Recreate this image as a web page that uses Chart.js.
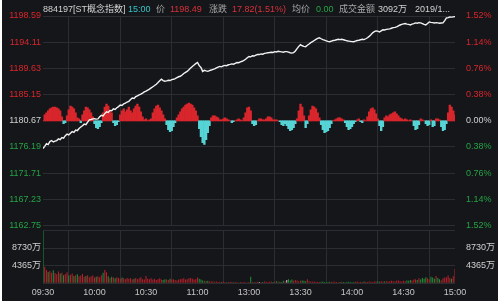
<!DOCTYPE html>
<html>
<head>
<meta charset="utf-8">
<script src="https://cdn.jsdelivr.net/npm/chart.js"></script>
<style>
    html, body { margin: 0; padding: 0; background: #fff; }
    #wrap { position: relative; width: 500px; height: 304px; overflow: hidden; }
    #bg { position: absolute; left: 2px; top: 0; width: 496px; height: 301px; background: #15161a; }
    #priceBox { position: absolute; left: 0; top: 0; width: 500px; height: 234px; }
    #volBox { position: absolute; left: 0; top: 222px; width: 500px; height: 80px; }
    .hd { position: absolute; top: 2px; font: 9px "Liberation Sans", "Noto Sans CJK SC", sans-serif; line-height: 14px; white-space: nowrap; }
</style>
</head>
<body>
<div id="wrap">
    <div id="bg"></div>
    <div id="priceBox"><canvas id="priceChart"></canvas></div>
    <div id="volBox"><canvas id="volChart"></canvas></div>
    <span class="hd" style="left:43px;color:#d2d2d2">884197[ST概念指数]</span>
    <span class="hd" style="left:128px;color:#36c5c8">15:00</span>
    <span class="hd" style="left:156px;color:#a8a8a8">价</span>
    <span class="hd" style="left:170px;color:#d8323a">1198.49</span>
    <span class="hd" style="left:209px;color:#a8a8a8">涨跌</span>
    <span class="hd" style="left:232px;color:#d8323a">17.82(1.51%)</span>
    <span class="hd" style="left:292px;color:#a8a8a8">均价</span>
    <span class="hd" style="left:316px;color:#24a545">0.00</span>
    <span class="hd" style="left:339px;color:#a8a8a8">成交金额</span>
    <span class="hd" style="left:378px;color:#d2d2d2">3092万</span>
    <span class="hd" style="left:415px;color:#d2d2d2">2019/1...</span>
</div>
<script>
    // 昨收 / 坐标轴刻度
    let prevClose = 1180.67;
    let timeLabels = ['09:30', '10:00', '10:30', '11:00', '13:00', '13:30', '14:00', '14:30', '15:00'];
    let priceTicks = [1162.75, 1167.23, 1171.71, 1176.19, 1180.67, 1185.15, 1189.63, 1194.11, 1198.59];
    let pctLabels = ['1.52%', '1.14%', '0.76%', '0.38%', '0.00%', '0.38%', '0.76%', '1.14%', '1.52%'];
    let volTicks = [0, 4365, 8730, 13095];
    let volLabels = ['', '4365万', '8730万', ''];

    // 分时价格 (每分钟, 241个)
    let price = [
        1175.94, 1176.30, 1176.75, 1176.60, 1177.12, 1177.30, 1177.05, 1177.20, 1177.29, 1177.60,
        1177.45, 1177.80, 1177.70, 1178.13, 1178.40, 1178.25, 1178.55, 1178.81, 1178.70, 1179.10,
        1179.00, 1179.35, 1179.60, 1179.82, 1180.10, 1180.00, 1180.45, 1180.84, 1180.90, 1181.00,
        1181.01, 1180.95, 1181.00, 1181.35, 1181.60, 1181.50, 1181.90, 1182.19, 1182.10, 1182.45,
        1182.40, 1182.70, 1182.60, 1182.90, 1183.10, 1183.38, 1183.30, 1183.55, 1183.70, 1183.88,
        1184.00, 1184.30, 1184.56, 1184.50, 1184.80, 1184.95, 1185.10, 1185.23, 1185.40, 1185.60,
        1185.74, 1185.90, 1186.08, 1186.30, 1186.50, 1186.70, 1186.93, 1187.20, 1187.50, 1187.77,
        1187.55, 1187.43, 1187.50, 1187.60, 1187.55, 1187.70, 1187.77, 1187.90, 1188.05, 1188.20,
        1188.28, 1188.50, 1188.75, 1188.95, 1189.12, 1189.40, 1189.70, 1189.97, 1190.20, 1190.45,
        1190.64, 1190.10, 1189.80, 1189.12, 1189.30, 1189.20, 1189.12, 1189.25, 1189.35, 1189.46,
        1189.55, 1189.70, 1189.85, 1189.97, 1189.90, 1190.05, 1190.15, 1190.10, 1190.25, 1190.31,
        1190.40, 1190.35, 1190.50, 1190.64, 1190.60, 1190.75, 1190.85, 1190.98, 1191.20, 1191.45,
        1191.66, 1191.60, 1191.80, 1191.75, 1191.90, 1192.00, 1192.00, 1192.10, 1192.05, 1192.20,
        1192.25, 1192.30, 1192.34, 1192.40, 1192.35, 1192.50, 1192.45, 1192.55, 1192.50, 1192.45,
        1192.40, 1192.50, 1192.50, 1192.40, 1192.30, 1192.25, 1192.34, 1192.60, 1193.01, 1193.40,
        1193.69, 1193.50, 1193.40, 1193.35, 1193.60, 1193.80, 1194.03, 1194.20, 1194.40, 1194.60,
        1194.75, 1194.87, 1194.70, 1194.55, 1194.45, 1194.35, 1194.25, 1194.19, 1194.30, 1194.40,
        1194.45, 1194.53, 1194.60, 1194.55, 1194.60, 1194.53, 1194.45, 1194.35, 1194.30, 1194.25,
        1194.20, 1194.19, 1194.30, 1194.40, 1194.45, 1194.53, 1194.60, 1194.55, 1194.70, 1194.87,
        1195.10, 1195.40, 1195.72, 1195.90, 1196.05, 1196.00, 1195.85, 1196.05, 1196.23, 1196.20,
        1196.30, 1196.35, 1196.39, 1196.50, 1196.60, 1196.65, 1196.73, 1196.90, 1197.05, 1197.15,
        1197.24, 1197.30, 1197.20, 1197.15, 1197.07, 1197.20, 1197.30, 1197.41, 1197.35, 1197.45,
        1197.41, 1197.30, 1197.15, 1197.07, 1197.30, 1197.58, 1197.50, 1197.45, 1197.40, 1197.45,
        1197.41, 1197.35, 1197.40, 1197.41, 1197.80, 1198.25, 1198.30, 1198.42, 1198.40, 1198.45,
        1198.49
    ];

    // 红绿柱 (买卖力道)
    let hist = [
        0, 6, 8, 10, 12, 13, 14, 14, 13, 12,
        10, 4, -3, -2, 5, 11, 15, 14, 12, 8,
        3, 2, -2, 6, 10, 14, 13, 11, 8, 4,
        -3, -7, -8, -6, -2, 8, 14, 17, 15, 10,
        8, -2, -5, -4, -1, 6, 10, 12, 9, 11,
        14, 10, 8, 12, 15, 17, 14, 9, 4, 1,
        2, 0, 1, 2, 8, 12, 15, 16, 13, 10,
        6, 2, -4, -9, -11, -10, -6, -2, 3, 6,
        9, 12, 14, 16, 17, 18, 17, 16, 13, 10,
        5, -8, -16, -22, -24, -19, -12, -5, 3, 5,
        5, 4, 3, 1, 1, 2, 3, 2, 1, 0,
        -2, -1, 0, 1, 2, 1, 0, 3, 8, 13,
        14, 10, -3, -5, -4, 0, 2, 2, 1, 1,
        2, 4, 4, 3, 1, 1, 1, 0, -1, -4,
        -5, -3, -5, -8, -10, -9, -7, -3, 2, 10,
        17, 14, 5, -7, -3, 5, 11, 15, 14, 12,
        8, 3, -4, -9, -12, -11, -10, -7, -3, 0,
        1, 2, 3, 3, 2, 1, -2, -6, -9, -8,
        -6, -3, -1, 1, 2, -1, -2, 1, 0, 4,
        9, 12, 13, 11, 7, 2, -5, -10, -6, 3,
        5, 4, 6, 7, 8, 9, 7, 5, 3, 2,
        1, 2, 1, 0, 1, 0, -5, -9, -8, -4,
        2, 1, 0, -3, -5, -4, 1, -6, -5, 2,
        2, 1, -6, -10, -9, -3, 8, 16, 14, 10,
        6
    ];

    // 成交额 (万)
    let vol = [
        13000, 4000, 3300, 2800, 3000, 2600, 3200, 2500, 2200, 2900,
        2400, 2600, 2000, 2300, 2700, 1900, 2100, 2400, 1800, 2000,
        2200, 1700, 1900, 2300, 1600, 1800, 2000, 1500, 1700, 1900,
        1400, 1600, 1700, 1500, 2000, 2600, 3300, 2700, 1700, 1300,
        1600, 1400, 1200, 1500, 1300, 1100, 1400, 1200, 1000, 1300,
        1100, 1200, 900, 1100, 1300, 1000, 1200, 1500, 1000, 900,
        1800, 1100, 1000, 1200, 900, 1100, 800, 1000, 1200, 900,
        800, 1000, 900, 800, 1100, 900, 1000, 800, 700, 900,
        1000, 1100, 1200, 900, 1000, 1200, 1300, 1100, 900, 1000,
        1400, 1100, 900, 700, 600, 500, 600, 400, 500, 400,
        350, 400, 300, 350, 300, 400, 300, 250, 300, 350,
        300, 250, 300, 250, 200, 300, 250, 300, 250, 200,
        300, 1600, 300, 250, 300, 350, 300, 250, 300, 400,
        350, 300, 350, 400, 300, 350, 500, 400, 350, 300,
        600, 500, 800, 1000, 700, 900, 600, 800, 700, 500,
        600, 700, 600, 500, 1000, 500, 400, 350, 400, 300,
        350, 300, 350, 400, 300, 250, 300, 350, 300, 400,
        350, 300, 250, 300, 350, 300, 250, 300, 350, 300,
        250, 300, 350, 400, 300, 350, 300, 400, 350, 300,
        400, 350, 300, 400, 450, 400, 350, 500, 450, 400,
        500, 450, 500, 600, 500, 450, 600, 700, 500, 400,
        600, 500, 700, 600, 800, 700, 900, 1000, 800, 1200,
        900, 1300, 1100, 1500, 1200, 1000, 1600, 1400, 1100, 1800,
        1300, 1000, 700, 1200, 1400, 1500, 1900, 1300, 1100, 1700,
        3600
    ];

    let RED = '#d8262c';
    let GREEN = '#25a244';
    let CYAN = '#56d4d6';
    let WHITE = '#d0d0d0';
    let GRID = '#2b2d33';
    let FONT = { family: '"Liberation Sans", "Noto Sans CJK SC", sans-serif', size: 9 };

    // 价格刻度颜色 (上红 / 中白 / 下绿)
    function tickColor(c) {
        if (c.index > 4) return RED;
        if (c.index === 4) return WHITE;
        return GREEN;
    }

    // 成交额柱颜色: 比前一分钟涨红跌绿
    function volColor(i) {
        let before = i === 0 ? prevClose : price[i - 1];
        if (price[i] > before) return '#b8212a';
        if (price[i] < before) return '#219038';
        return '#cfcfcf';
    }

    let xScale = {
        type: 'linear', min: 0, max: 240, offset: false,
        grid: { color: GRID, drawTicks: false },
        border: { display: false },
        ticks: { stepSize: 30, display: false }
    };

    // 分时图
    let priceChart = new Chart(document.getElementById('priceChart'), {
        type: 'bar',
        data: {
            datasets: [
                {
                    type: 'line',
                    data: price.map((v, i) => ({ x: i, y: v })),
                    yAxisID: 'y',
                    borderColor: '#f2f2f2',
                    borderWidth: 1.4,
                    pointRadius: 0,
                    tension: 0,
                    order: 0
                },
                {
                    data: hist.map((v, i) => ({ x: i, y: v })),
                    yAxisID: 'yh',
                    backgroundColor: hist.map(v => v >= 0 ? RED : CYAN),
                    barPercentage: 1,
                    categoryPercentage: 1,
                    order: 1
                }
            ]
        },
        options: {
            responsive: true,
            maintainAspectRatio: false,
            animation: false,
            layout: { padding: { top: 16, bottom: 6, left: 0, right: 0 } },
            plugins: { legend: { display: false }, tooltip: { enabled: false } },
            scales: {
                x: xScale,
                y: {
                    position: 'left', min: priceTicks[0], max: priceTicks[8],
                    afterBuildTicks: s => { s.ticks = priceTicks.map(v => ({ value: v })); },
                    afterFit: s => { s.width = 43; },
                    grid: { color: GRID, drawTicks: false },
                    border: { display: false },
                    ticks: { padding: 2, color: tickColor, font: FONT, callback: v => v.toFixed(2) }
                },
                yr: {
                    position: 'right', min: priceTicks[0], max: priceTicks[8],
                    afterBuildTicks: s => { s.ticks = priceTicks.map(v => ({ value: v })); },
                    afterFit: s => { s.width = 45; },
                    grid: { display: false },
                    border: { display: false },
                    ticks: { padding: 3, color: tickColor, font: FONT, callback: (v, i) => pctLabels[8 - i] }
                },
                yh: { display: false, min: -106, max: 106 }
            }
        }
    });

    // 成交额图
    let volChart = new Chart(document.getElementById('volChart'), {
        type: 'bar',
        data: {
            datasets: [{
                data: vol.map((v, i) => ({ x: i, y: v })),
                backgroundColor: vol.map((v, i) => volColor(i)),
                barPercentage: 0.6,
                categoryPercentage: 1
            }]
        },
        options: {
            responsive: true,
            maintainAspectRatio: false,
            animation: false,
            layout: { padding: { top: 6, bottom: 0, left: 0, right: 0 } },
            plugins: { legend: { display: false }, tooltip: { enabled: false } },
            scales: {
                x: {
                    type: 'linear', min: 0, max: 240, offset: false,
                    grid: { color: GRID, drawTicks: false },
                    border: { display: false },
                    ticks: {
                        stepSize: 30, padding: 4, color: '#c4c4c4', font: FONT,
                        maxRotation: 0, autoSkip: false,
                        callback: v => timeLabels[v / 30]
                    }
                },
                y: {
                    position: 'left', min: 0, max: volTicks[3],
                    afterBuildTicks: s => { s.ticks = volTicks.map(v => ({ value: v })); },
                    afterFit: s => { s.width = 43; },
                    grid: { color: GRID, drawTicks: false },
                    border: { display: false },
                    ticks: { padding: 2, color: WHITE, font: FONT, callback: (v, i) => volLabels[i] }
                },
                yr: {
                    position: 'right', min: 0, max: volTicks[3],
                    afterBuildTicks: s => { s.ticks = volTicks.map(v => ({ value: v })); },
                    afterFit: s => { s.width = 45; },
                    grid: { display: false },
                    border: { display: false },
                    ticks: { padding: 3, color: WHITE, font: FONT, callback: (v, i) => volLabels[i] }
                }
            }
        }
    });
</script>
</body>
</html>
